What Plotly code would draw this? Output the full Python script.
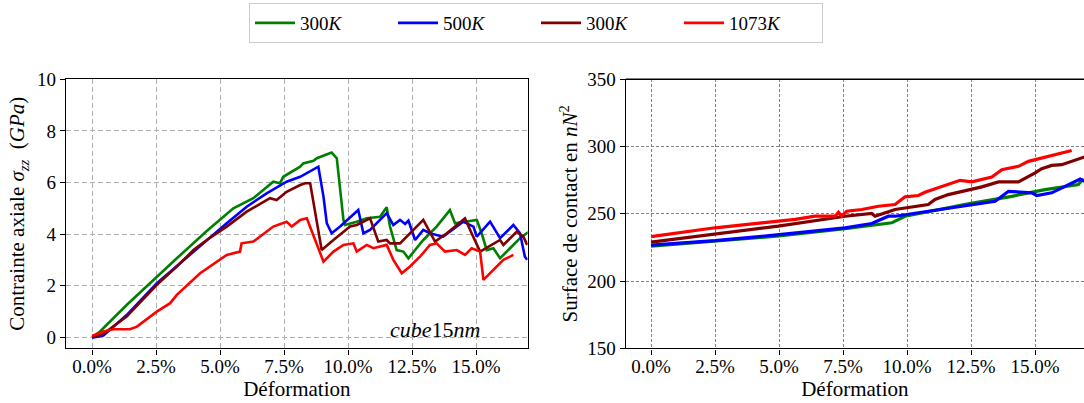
import plotly.graph_objects as go

# ---------------- data (strain in %) ----------------
# Left: axial stress (GPa)
g_x = [0.0, 0.31, 1.35, 2.53, 3.31, 4.48, 5.52, 6.30, 7.08, 7.34, 7.47, 8.13, 8.25, 8.65, 8.78, 9.36, 9.56,
       9.82, 9.88, 10.34, 10.73, 11.25, 11.51, 11.64, 11.90, 12.16, 12.36, 12.62, 12.94, 13.46, 13.98, 14.18,
       14.50, 15.03, 15.22, 15.42, 15.68, 15.94, 16.33, 16.72, 16.98, 17.1]
g_y = [0.0, 0.22, 1.25, 2.35, 3.06, 4.12, 5.00, 5.39, 6.03, 5.97, 6.22, 6.61, 6.74, 6.84, 6.94, 7.16, 6.94,
       4.55, 4.35, 4.48, 4.61, 4.67, 5.04, 4.29, 3.38, 3.32, 3.06, 3.38, 3.77, 4.29, 4.93, 4.42,
       4.48, 4.55, 4.03, 3.38, 3.45, 3.06, 3.45, 3.84, 4.03, 4.1]

b_x = [0.0, 0.44, 1.35, 2.53, 3.44, 4.48, 5.26, 6.04, 6.82, 7.60, 8.13, 8.84, 9.04, 9.17, 9.36, 9.69, 10.40,
       10.60, 10.86, 11.51, 11.77, 12.03, 12.23, 12.36, 12.62, 12.94, 13.20, 13.46, 13.72, 14.50, 14.90,
       15.03, 15.55, 15.94, 16.46, 16.72, 16.91, 17.0]
b_y = [-0.02, 0.06, 0.86, 2.09, 2.87, 3.77, 4.42, 5.06, 5.58, 6.03, 6.22, 6.61, 5.45, 4.42, 4.03, 4.29, 4.93,
       4.03, 4.16, 4.81, 4.35, 4.55, 4.39, 4.52, 3.77, 4.16, 4.03, 3.96, 3.90, 4.48, 4.29,
       3.90, 4.48, 3.84, 4.35, 4.03, 3.12, 3.0]

m_x = [0.0, 0.4, 1.35, 2.53, 3.31, 3.96, 4.48, 5.26, 6.04, 6.95, 7.21, 7.60, 8.13, 8.32, 8.52, 8.65, 8.97,
       9.43, 10.08, 10.34, 10.86, 11.18, 11.51, 11.64, 12.03, 12.94, 13.40, 13.86, 14.57, 14.77, 15.16,
       15.94, 16.07, 16.59, 16.85, 17.0]
m_y = [0.02, 0.1, 0.80, 2.03, 2.74, 3.38, 3.77, 4.29, 4.87, 5.39, 5.32, 5.64, 5.90, 5.97, 5.97, 5.19, 3.38,
       3.77, 4.29, 4.35, 4.61, 3.71, 3.77, 3.64, 3.64, 4.55, 3.71, 4.03, 4.61, 4.16, 3.32,
       3.77, 3.58, 4.09, 3.90, 3.58]

r_x = [0.0, 0.44, 0.83, 1.48, 1.75, 2.53, 3.05, 3.31, 4.22, 5.26, 5.78, 5.84, 6.30, 7.08, 7.60, 7.80, 8.13,
       8.39, 9.04, 9.43, 9.82, 10.21, 10.34, 10.73, 10.99, 11.51, 11.77, 12.10, 12.42, 12.81, 13.20, 13.46,
       13.79, 14.25, 14.57, 14.83, 15.16, 15.29, 16.07, 16.46]
r_y = [0.05, 0.22, 0.31, 0.31, 0.41, 0.99, 1.32, 1.64, 2.48, 3.19, 3.32, 3.64, 3.71, 4.29, 4.48, 4.29, 4.55,
       4.61, 2.93, 3.32, 3.58, 3.64, 3.32, 3.58, 3.45, 3.58, 3.00, 2.48, 2.74, 3.12, 3.58, 3.64,
       3.32, 3.38, 3.19, 3.45, 3.32, 2.22, 3.00, 3.19]

# Right: contact surface
sg_x = [0.0, 2.5, 5.0, 7.58, 9.40, 9.92, 12.39, 14.09, 15.39, 16.69, 16.82, 16.95]
sg_y = [226.0, 229.5, 233.5, 238.9, 243.3, 248.2, 257.4, 263.0, 268.0, 271.7, 274.7, 275.0]

sb_x = [0.0, 2.5, 5.0, 7.58, 8.62, 9.27, 9.53, 10.44, 13.44, 13.96, 14.87, 15.07, 15.65, 16.17, 16.76, 16.95]
sb_y = [226.7, 230.0, 234.5, 239.6, 242.8, 248.2, 248.2, 250.7, 259.3, 266.7, 265.6, 263.6, 265.6, 270.4, 275.9, 274.1]

sm_x = [0.0, 2.5, 4.97, 7.58, 8.62, 8.75, 9.53, 10.83, 11.09, 11.61, 12.14, 12.92, 13.57, 14.35, 15.0,
        15.26, 15.65, 16.04, 16.95]
sm_y = [229.0, 235.0, 240.8, 248.2, 250.2, 248.2, 253.2, 256.9, 260.6, 264.3, 266.7, 270.0, 273.7, 273.7, 280.4,
        283.6, 286.0, 286.5, 292.4]

sr_x = [0.0, 1.2, 2.5, 4.32, 5.63, 6.41, 7.19, 7.32, 7.45, 7.64, 8.23, 8.88, 9.53, 9.92, 10.44, 10.70, 11.48,
        12.07, 12.53, 13.31, 13.70, 14.35, 14.74, 15.39, 16.17, 16.43]
sr_y = [233.0, 236.4, 239.6, 243.3, 245.8, 248.2, 248.2, 251.2, 248.2, 251.9, 253.2, 255.6, 256.9, 262.6, 263.6,
        266.0, 271.0, 274.9, 273.7, 277.4, 282.8, 285.3, 289.0, 292.2, 296.4, 297.1]

names = ["300<i>K</i>", "500<i>K</i>", "300<i>K</i>", "1073<i>K</i>"]
colors = ["#008000", "#0000ff", "#800000", "#ff0000"]

x_ticks = [0.0, 2.5, 5.0, 7.5, 10.0, 12.5, 15.0]
y1_ticks = [0, 2, 4, 6, 8, 10]
y2_ticks = [150, 200, 250, 300, 350]

FONT = "Liberation Serif"
W, H = 1084, 403

fig = go.Figure()
left = [(g_x, g_y), (b_x, b_y), (m_x, m_y), (r_x, r_y)]
right = [(sg_x, sg_y), (sb_x, sb_y), (sm_x, sm_y), (sr_x, sr_y)]
for (xs, ys), n, c in zip(left, names, colors):
    fig.add_trace(go.Scatter(x=xs, y=ys, mode="lines", name=n, line=dict(color=c, width=2.6),
                             xaxis="x", yaxis="y", showlegend=True))
for (xs, ys), n, c in zip(right, names, colors):
    fig.add_trace(go.Scatter(x=xs, y=ys, mode="lines", name=n, line=dict(color=c, width=3.2),
                             xaxis="x2", yaxis="y2", showlegend=False))

tickfont = dict(family=FONT, size=19, color="black")
titlefont = dict(family=FONT, size=21, color="black")

common_x = dict(tickmode="array", tickvals=x_ticks, ticktext=[f"{v:.1f}%" for v in x_ticks],
                ticks="outside", ticklen=5, tickwidth=1.2, tickcolor="black", ticklabelstandoff=-4,
                showline=True, linecolor="black", linewidth=1.4, zeroline=False,
                showgrid=True, tickfont=tickfont, automargin=False,
                title=dict(text="Déformation", font=titlefont, standoff=0))

y_dom = [1 - 348.3 / H, 1 - 79.3 / H]

fig.update_layout(
    width=W, height=H,
    margin=dict(l=0, r=0, t=0, b=0, autoexpand=False),
    paper_bgcolor="white", plot_bgcolor="white",
    font=dict(family=FONT, color="black"),
    xaxis=dict(domain=[66 / W, 527.7 / W], range=[-1.02, 17.02], anchor="y", mirror=True,
               gridcolor="#b0b0b0", griddash="5px,3px", gridwidth=1, **common_x),
    yaxis=dict(domain=y_dom, range=[-0.43, 10], anchor="x", mirror=True, automargin=False,
               tickmode="array", tickvals=y1_ticks, ticks="outside", ticklen=5, tickwidth=1.2,
               tickcolor="black", showline=True, linecolor="black", linewidth=1.4, zeroline=False,
               showgrid=True, gridcolor="#b0b0b0", griddash="5px,3px", gridwidth=1, tickfont=tickfont,
               title=dict(text="Contrainte axiale <i>σ<sub>zz</sub></i>  (<i>GPa</i>)", font=titlefont, standoff=6)),
    xaxis2=dict(domain=[625.7 / W, 1.0], range=[-0.99, 16.91], anchor="y2", mirror=False,
                gridcolor="#808080", griddash="3px,2px", gridwidth=0.8, **common_x),
    yaxis2=dict(domain=y_dom, range=[150, 350], anchor="x2", mirror=False, automargin=False,
                tickmode="array", tickvals=y2_ticks, ticks="outside", ticklen=5, tickwidth=1.2,
                tickcolor="black", showline=True, linecolor="black", linewidth=1.4, zeroline=False,
                showgrid=True, gridcolor="#808080", griddash="3px,2px", gridwidth=0.8, tickfont=tickfont,
                title=dict(text="Surface de contact en <i>nN</i><sup>2</sup>", font=titlefont, standoff=3)),
    legend=dict(orientation="h", x=249 / W, y=1 - 3 / H, xanchor="left", yanchor="top",
                bordercolor="#cccccc", borderwidth=1, bgcolor="white",
                font=dict(family=FONT, size=19, color="black"),
                entrywidth=88, entrywidthmode="pixels", itemwidth=40),
    shapes=[dict(type="line", xref="x2 domain", yref="y2 domain", x0=0, x1=1, y0=1, y1=1,
                 line=dict(color="black", width=1.4))],
    annotations=[dict(text="<i>cube</i>15<i>nm</i>", x=13.4, y=0.3, xref="x", yref="y",
                      showarrow=False, font=dict(family=FONT, size=22, color="black"))],
)

fig.write_html("out.html", config={"displayModeBar": False},
               post_script="document.body.style.margin='0';")
